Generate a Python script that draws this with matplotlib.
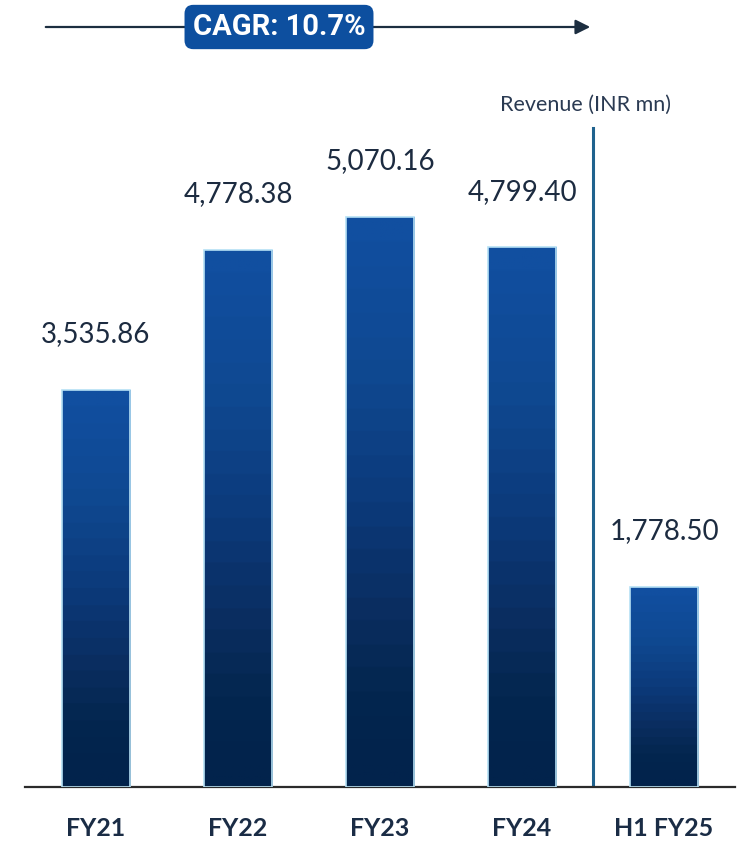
# Revenue bar chart with CAGR arrow

import numpy as np
from matplotlib import pyplot as plt
from matplotlib.colors import LinearSegmentedColormap

categories = ['FY21', 'FY22', 'FY23', 'FY24', 'H1 FY25']
revenue = [3535.86, 4778.38, 5070.16, 4799.40, 1778.50]
cagr_text = 'CAGR: 10.7%'
unit_text = 'Revenue (INR mn)'

W, H = 742, 842
fig = plt.figure(figsize=(W / 100, H / 100), dpi=100)
ax = fig.add_axes([25 / W, 55 / H, 710 / W, 727 / H])

# gradient for the bars, dark bottom, bright blue top
cmap = LinearSegmentedColormap.from_list(
    'bars', [(0.0, '#02234c'), (0.15, '#03264f'), (0.3, '#0a2d60'),
             (0.5, '#0c3a7a'), (0.75, '#0f4992'), (1.0, '#114fa0')], N=24)
grad = np.linspace(0, 1, 256).reshape(-1, 1)

width = 0.48
x = np.arange(len(categories))
bars = ax.bar(x, revenue, width, facecolor='none', edgecolor='#b5e0f5',
              linewidth=1.2, zorder=3)
for b, v in zip(bars, revenue):
    im = ax.imshow(grad, extent=[b.get_x(), b.get_x() + width, 0, v],
                   aspect='auto', origin='lower', cmap=cmap, zorder=2)
    im.set_clip_path(b)
    ax.annotate(f'{v:,.2f}', (b.get_x() + width / 2, v), xytext=(0, 40),
                textcoords='offset points', ha='center', va='center',
                fontsize=20, family='Lato', color='#1c2b40')

ax.set_xlim(-0.5, 4.5)
ax.set_ylim(0, 6467)

# separator between full years and half year
ax.plot([3.5, 3.5], [0, 5862], color='#1f628e', lw=2.2, zorder=1)

for i, c in enumerate(categories):
    ax.text(i, -41 / 727, c, transform=ax.get_xaxis_transform(),
            ha='center', va='center', fontsize=18, fontweight='bold',
            family='Lato', color='#1a2c45')

for s in ['top', 'right', 'left']:
    ax.spines[s].set_visible(False)
ax.spines['bottom'].set_color('#2b2b2b')
ax.spines['bottom'].set_linewidth(1.6)
ax.set_xticks([])
ax.set_yticks([])

fig.text(586 / W, 1 - 105 / H, unit_text, ha='center', va='center',
         fontsize=15.5, family='Lato', color='#2a3a52')

# CAGR arrow
ya = 1 - 27 / H
ax.annotate('', xy=(593 / W, ya), xytext=(43 / W, ya),
            xycoords='figure fraction', textcoords='figure fraction',
            arrowprops=dict(arrowstyle='-|>', color='#1c2e40', lw=1.6,
                            mutation_scale=22))
fig.text(279 / W, ya, cagr_text, ha='center', va='center', fontsize=21,
         fontweight='bold', family='Roboto', color='white',
         bbox=dict(boxstyle='round,pad=0.28,rounding_size=0.3',
                   fc='#0d4f9f', ec='none'))

fig.savefig('out.png', dpi=100)
